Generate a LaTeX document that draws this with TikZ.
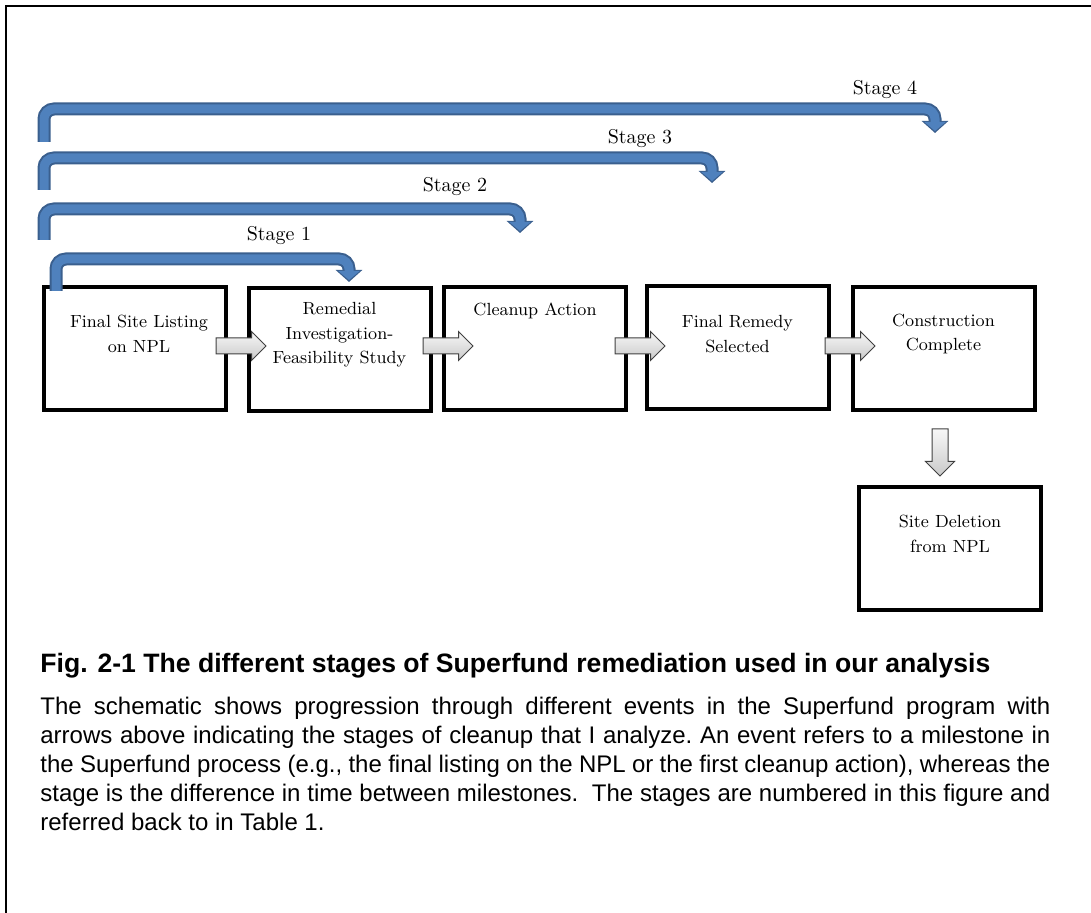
\documentclass[tikz,border=0pt]{standalone}
\usepackage{fontspec}
\newfontfamily\capfont{Liberation Sans}
\usetikzlibrary{arrows.meta,shapes.arrows}

\newdimen\pxu \pxu=0.5pt
\definecolor{stageblue}{HTML}{4F81BD}
\definecolor{stageedge}{HTML}{3A5F8E}
\definecolor{flowedge}{HTML}{404040}

\tikzset{
  eventbox/.style={draw=black, line width=4\pxu, minimum width=182\pxu, minimum height=123\pxu, inner sep=0pt},
  eventtext/.style={align=center, font=\fontsize{8.8}{12.2}\selectfont, inner sep=0pt},
  flowarrow/.style={single arrow, draw=flowedge, line width=0.5pt, top color=gray!6, bottom color=gray!42,
    single arrow head extend=6.5\pxu, single arrow head indent=0pt,
    minimum height=50\pxu, inner xsep=0pt, inner ysep=7.5\pxu},
  stageouter/.style={draw=stageedge, line width=13\pxu, rounded corners=5pt, -{Triangle[width=13pt,length=6pt]}},
  stageinner/.style={draw=stageblue, line width=9\pxu, rounded corners=5pt, shorten >=1pt, -{Triangle[width=10.5pt,length=4.5pt]}},
  stagelabel/.style={font=\fontsize{10}{12}\selectfont, inner sep=0pt}
}

\begin{document}
\begin{tikzpicture}[x=0.5pt, y=-0.5pt]
    \useasboundingbox (0,0) rectangle (1091,913);
    \draw[line width=1pt] (6,913) -- (6,6) -- (1091,6);

    % events
    \node[eventbox] (listing) at (135,349) {};
    \node[eventbox] (rifs) at (339.5,350) {};
    \node[eventbox] (cleanup) at (535,348.5) {};
    \node[eventbox] (remedy) at (737.5,348) {};
    \node[eventbox] (complete) at (943.5,348.5) {};
    \node[eventbox] (deletion) at (950,548.5) {};

    \node[eventtext] (listingtxt) at (139,334) {Final Site Listing\\on NPL};
    \node[eventtext] (rifstxt) at (339.5,335) {Remedial\\Investigation-\\Feasibility Study};
    \node[eventtext] (cleanuptxt) at (535,311) {Cleanup Action};
    \node[eventtext] (remedytxt) at (737.5,334) {Final Remedy\\Selected};
    \node[eventtext] (completetxt) at (943.5,334) {Construction\\Complete};
    \node[eventtext] (deletiontxt) at (950,534) {Site Deletion\\from NPL};

    % flow arrows
    \node[flowarrow] (flow1) at (237,346) {};
    \node[flowarrow] (flow2) at (444,346) {};
    \node[flowarrow] (flow3) at (636,346) {};
    \node[flowarrow] (flow4) at (846,346) {};
    \node[flowarrow, rotate=-90, minimum height=47\pxu] (flow5) at (940,448.5) {};

    % stages
    \coordinate (s1) at (56,291);
    \coordinate (k1) at (349,259);
    \coordinate (e1) at (349,282);
    \coordinate (s2) at (44,240);
    \coordinate (k2) at (520,209);
    \coordinate (e2) at (520,233);
    \coordinate (s3) at (44,190);
    \coordinate (k3) at (712,158);
    \coordinate (e3) at (712,183);
    \coordinate (s4) at (44,142);
    \coordinate (k4) at (935,109);
    \coordinate (e4) at (935,133);

    \draw[stageouter] (s1) |- (k1) -- (e1);
    \draw[stageinner] (s1) |- (k1) -- (e1);
    \draw[stageouter] (s2) |- (k2) -- (e2);
    \draw[stageinner] (s2) |- (k2) -- (e2);
    \draw[stageouter] (s3) |- (k3) -- (e3);
    \draw[stageinner] (s3) |- (k3) -- (e3);
    \draw[stageouter] (s4) |- (k4) -- (e4);
    \draw[stageinner] (s4) |- (k4) -- (e4);

    \node[stagelabel] (stage1) at (279,236) {Stage 1};
    \node[stagelabel] (stage2) at (455,187) {Stage 2};
    \node[stagelabel] (stage3) at (640,139) {Stage 3};
    \node[stagelabel] (stage4) at (885,90) {Stage 4};

    % caption
    \node[anchor=base west, inner sep=0pt, font=\capfont\bfseries\fontsize{13.3}{16}\selectfont] (figtitle) at (40,672)
        {Fig. 2-1 The different stages of Superfund remediation used in our analysis};
    \node[anchor=base west, inner sep=0pt, text width=1010\pxu, align=justify, font=\capfont\fontsize{12}{14.5}\selectfont\frenchspacing] (figtext) at (40,714)
        {The schematic shows progression through different events in the Superfund program with\linebreak
        arrows above indicating the stages of cleanup that I analyze. An event refers to a milestone in\linebreak
        the Superfund process (e.g., the final listing on the NPL or the first cleanup action), whereas the\linebreak
        stage is the difference in time between milestones.\ \ The stages are numbered in this figure and\linebreak
        referred back to in Table 1.};
\end{tikzpicture}
\end{document}
